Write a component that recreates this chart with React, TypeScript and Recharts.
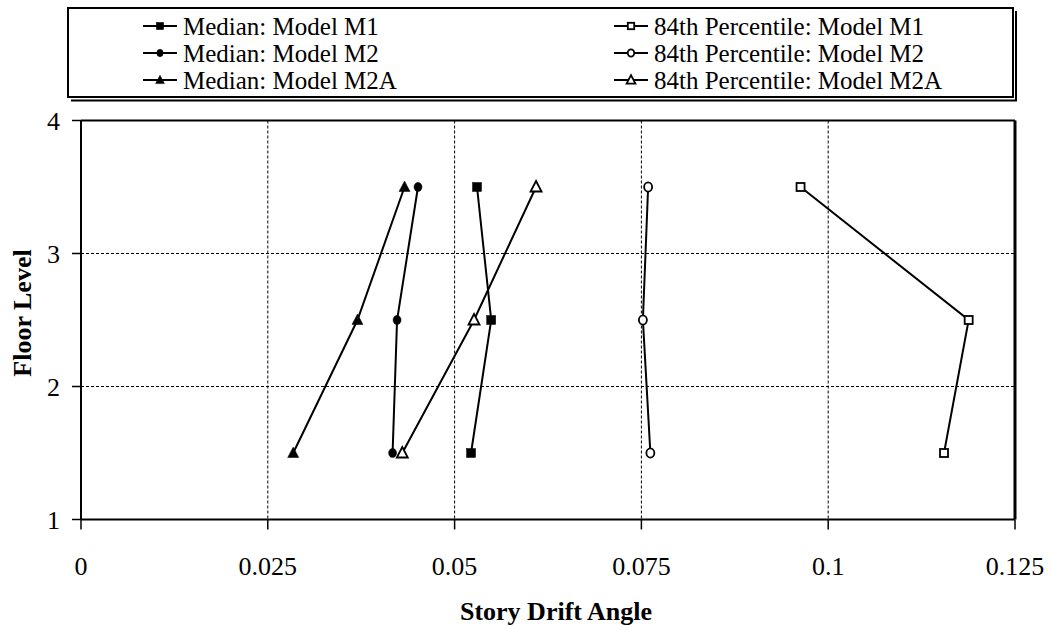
import React from 'react';
import { ScatterChart, Scatter, XAxis, YAxis, CartesianGrid, ReferenceLine, Label } from 'recharts';

const FONT = "'Liberation Serif', 'Times New Roman', serif";

// Floor levels (mid-story positions)
const floors = [3.5, 2.5, 1.5];

// Story drift angles
const medianM1 = [0.053, 0.0549, 0.0522];
const medianM2 = [0.0451, 0.0423, 0.0417];
const medianM2A = [0.0433, 0.037, 0.0284];
const p84M1 = [0.0963, 0.1188, 0.1155];
const p84M2 = [0.0759, 0.0752, 0.0762];
const p84M2A = [0.0609, 0.0526, 0.043];

const xTicks = [0, 0.025, 0.05, 0.075, 0.1, 0.125];
const yTicks = [1, 2, 3, 4];

type Kind = 'square' | 'circle' | 'triangle';

const series: { name: string; values: number[]; kind: Kind; filled: boolean }[] = [
  { name: 'Median: Model M1', values: medianM1, kind: 'square', filled: true },
  { name: 'Median: Model M2', values: medianM2, kind: 'circle', filled: true },
  { name: 'Median: Model M2A', values: medianM2A, kind: 'triangle', filled: true },
  { name: '84th Percentile: Model M1', values: p84M1, kind: 'square', filled: false },
  { name: '84th Percentile: Model M2', values: p84M2, kind: 'circle', filled: false },
  { name: '84th Percentile: Model M2A', values: p84M2A, kind: 'triangle', filled: false },
];

function marker(kind: Kind, filled: boolean, cx: number, cy: number, s = 1) {
  const fill = filled ? '#000' : '#fff';
  const sw = filled ? 0.5 : 1.8;
  if (kind === 'square') {
    const h = (filled ? 4.5 : 4) * s;
    return <rect x={cx - h} y={cy - h} width={2 * h} height={2 * h} fill={fill} stroke="#000" strokeWidth={sw} />;
  }
  if (kind === 'circle') {
    return <ellipse cx={cx} cy={cy} rx={4 * s} ry={4.6 * s} fill={fill} stroke="#000" strokeWidth={sw} />;
  }
  const pts = `${cx},${cy - 6 * s} ${cx - 5.5 * s},${cy + 4.5 * s} ${cx + 5.5 * s},${cy + 4.5 * s}`;
  return <polygon points={pts} fill={fill} stroke="#000" strokeWidth={sw} strokeLinejoin="miter" />;
}

function LegendBox() {
  const rows = [26, 53, 80];
  const cols = [143, 614];
  return (
    <svg width={1051} height={110} style={{ position: 'absolute', left: 0, top: 0 }}>
      <rect x={68} y={8} width={945} height={89} fill="#fff" stroke="#000" strokeWidth={2} />
      <line x1={1016} y1={11} x2={1016} y2={101} stroke="#000" strokeWidth={2} />
      <line x1={71} y1={100.5} x2={1017} y2={100.5} stroke="#000" strokeWidth={2} />
      {series.map((s, i) => {
        const col = Math.floor(i / 3);
        const x0 = cols[col];
        const y = rows[i % 3];
        return (
          <g key={s.name}>
            <line x1={x0} y1={y} x2={x0 + 34} y2={y} stroke="#000" strokeWidth={2} />
            {marker(s.kind, s.filled, x0 + 17, y, 0.8)}
            <text x={x0 + 40} y={y + 8.5} fontFamily={FONT} fontSize={25} fill="#000">
              {s.name}
            </text>
          </g>
        );
      })}
    </svg>
  );
}

export default function App() {
  return (
    <div style={{ position: 'absolute', left: 0, top: 0, width: 1051, height: 627, background: '#fff' }}>
      <ScatterChart
        width={1051}
        height={627}
        margin={{ top: 120.5, right: 36, bottom: 27.5, left: 21 }}
        style={{ fontFamily: FONT }}
      >
        <CartesianGrid stroke="#000" strokeWidth={1} strokeDasharray="3 2" />
        <XAxis
          type="number"
          dataKey="x"
          domain={[0, 0.125]}
          ticks={xTicks}
          interval={0}
          height={80}
          tickSize={10}
          tickMargin={27}
          axisLine={{ stroke: '#000', strokeWidth: 2 }}
          tickLine={{ stroke: '#000', strokeWidth: 1.5 }}
          tick={{ fill: '#000', fontSize: 26, fontFamily: FONT }}
        >
          <Label
            content={(props: any) => {
              const vb = props.viewBox;
              return (
                <text x={vb.x + vb.width / 2 + 8} y={vb.y + 100.5} textAnchor="middle" fontFamily={FONT} fontWeight="bold" fontSize={26} fill="#000">
                  Story Drift Angle
                </text>
              );
            }}
          />
        </XAxis>
        <YAxis
          type="number"
          dataKey="y"
          domain={[1, 4]}
          ticks={yTicks}
          interval={0}
          width={60}
          tickSize={9}
          tickMargin={12}
          axisLine={{ stroke: '#000', strokeWidth: 2 }}
          tickLine={{ stroke: '#000', strokeWidth: 1.5 }}
          tick={{ fill: '#000', fontSize: 26, fontFamily: FONT }}
        >
          <Label
            content={(props: any) => {
              const vb = props.viewBox;
              const x = vb.x + vb.width - 50;
              const y = vb.y + vb.height / 2 - 7;
              return (
                <text x={x} y={y} transform={`rotate(-90 ${x} ${y})`} textAnchor="middle" fontFamily={FONT} fontWeight="bold" fontSize={26} fill="#000">
                  Floor Level
                </text>
              );
            }}
          />
        </YAxis>
        <ReferenceLine y={4} stroke="#000" strokeWidth={2} />
        <ReferenceLine x={0.125} stroke="#000" strokeWidth={3} />
        {series.map((s) => (
          <Scatter
            key={s.name}
            name={s.name}
            data={s.values.map((v, i) => ({ x: v, y: floors[i] }))}
            line={{ stroke: '#000', strokeWidth: 2 }}
            lineType="joint"
            isAnimationActive={false}
            shape={(p: any) => marker(s.kind, s.filled, p.cx, p.cy)}
          />
        ))}
      </ScatterChart>
      <LegendBox />
    </div>
  );
}
